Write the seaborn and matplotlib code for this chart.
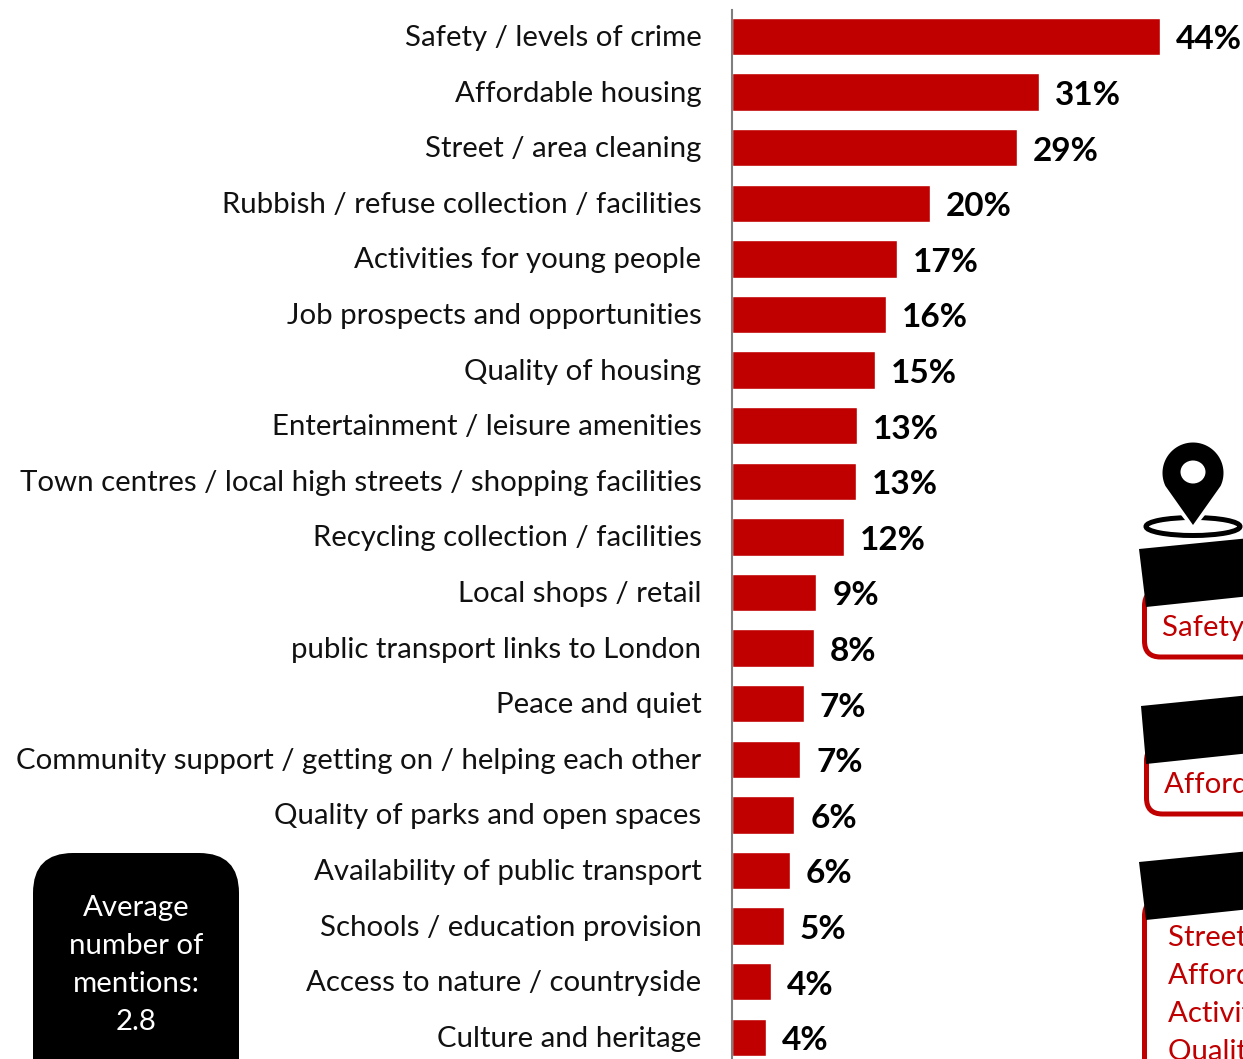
import matplotlib.pyplot as plt
import numpy as np
import pandas as pd
import seaborn as sns
from matplotlib.patches import Ellipse, FancyBboxPatch, Polygon
from matplotlib.transforms import ScaledTranslation

# --- Data ---
categories = [
    "Safety / levels of crime",
    "Affordable housing",
    "Street / area cleaning",
    "Rubbish / refuse collection / facilities",
    "Activities for young people",
    "Job prospects and opportunities",
    "Quality of housing",
    "Entertainment / leisure amenities",
    "Town centres / local high streets / shopping facilities",
    "Recycling collection / facilities",
    "Local shops / retail",
    "public transport links to London",
    "Peace and quiet",
    "Community support / getting on / helping each other",
    "Quality of parks and open spaces",
    "Availability of public transport",
    "Schools / education provision",
    "Access to nature / countryside",
    "Culture and heritage",
]
values = [44.0, 31.55, 29.3, 20.35, 16.95, 15.85, 14.7, 12.85, 12.75, 11.5,
          8.65, 8.45, 7.4, 7.0, 6.4, 5.95, 5.35, 4.0, 3.5]
value_labels = ["44%", "31%", "29%", "20%", "17%", "16%", "15%", "13%", "13%", "12%",
                "9%", "8%", "7%", "7%", "6%", "6%", "5%", "4%", "4%"]

mentions_text = "Average\nnumber of\nmentions:\n2.8"
box_one_text = "Safety / levels of crime"
box_two_text = "Affordable housing"
box_three_lines = ["Street / area cleaning", "Affordable housing",
                   "Activities for young people", "Quality of housing"]

RED = "#C00000"
W, H = 1243, 1059
TEXT_SIZE = 21.2

sns.set_theme(style="white")
plt.rcParams['font.family'] = ['Lato', 'DejaVu Sans']

df = pd.DataFrame({'Category': categories, 'Value': values})

fig = plt.figure(figsize=(W / 100, H / 100), dpi=100)
ax = fig.add_axes([732 / W, 0, (W - 732) / W, (H - 10) / H])
sns.barplot(data=df, y='Category', x='Value', color=RED, width=0.675, saturation=1, ax=ax)

ax.set_xlim(0, (W - 732) / 9.73)
ax.set_ylim((H - 36.5) / 55.6, -26.5 / 55.6)
ax.set_xlabel('')
ax.set_ylabel('')
ax.xaxis.set_visible(False)
sns.despine(ax=ax, top=True, right=True, bottom=True)
ax.spines['left'].set_color('#7f7f7f')
ax.spines['left'].set_linewidth(1.5)
ax.patch.set_alpha(0)
ax.tick_params(axis='y', length=0, pad=22, labelsize=TEXT_SIZE, labelcolor='#111111')
# nudge the category names up a touch
nudge = ScaledTranslation(0, 1 / 100, fig.dpi_scale_trans)
for lab in ax.get_yticklabels():
    lab.set_transform(lab.get_transform() + nudge)
bar_texts = ax.bar_label(ax.containers[0], labels=value_labels, padding=11, fontsize=24,
                         fontweight='bold', color='black', clip_on=False)
for t in bar_texts:
    t.xyann = (11.5, -2.5)

# --- Overlay in pixel coordinates for the callouts ---
ov = fig.add_axes([0, 0, 1, 1])
ov.set_xlim(0, W)
ov.set_ylim(H, 0)
ov.axis('off')
ov.patch.set_alpha(0)

# average box, runs off the bottom edge
ov.add_patch(FancyBboxPatch((33 + 40, 853 + 40), 206 - 80, 260, boxstyle="round,pad=40,rounding_size=40",
                            fc='black', ec='none'))
ov.text(136, 965, mentions_text, color='white', ha='center', va='center',
        fontsize=TEXT_SIZE, linespacing=1.56)

# red outlined boxes, cut by the picture edge
for left, top, bottom in [(1144.5, 590, 657), (1146.5, 745, 814), (1144.5, 900, 1150)]:
    ov.add_patch(FancyBboxPatch((left + 16, top + 16), 300, bottom - top - 32,
                                boxstyle="round,pad=16,rounding_size=16",
                                fc='white', ec=RED, lw=3.6))

# black ribbons on top of the boxes
ov.add_patch(Polygon([(1139, 549), (1146, 607), (1260, 595), (1260, 537)], fc='black', ec='none'))
ov.add_patch(Polygon([(1141, 706), (1146, 764), (1260, 752), (1260, 694)], fc='black', ec='none'))
ov.add_patch(Polygon([(1139, 862), (1146, 920), (1260, 908), (1260, 850)], fc='black', ec='none'))

ov.text(1162, 628, box_one_text, color=RED, va='center', fontsize=TEXT_SIZE, clip_on=True)
ov.text(1164, 785, box_two_text, color=RED, va='center', fontsize=TEXT_SIZE, clip_on=True)
for y, line in zip([938, 976, 1014, 1052], box_three_lines):
    ov.text(1168, y, line, color=RED, va='center', fontsize=TEXT_SIZE, clip_on=True)

# map pin icon
ov.add_patch(Ellipse((1193, 526.5), 94, 18, fc='none', ec='black', lw=3.6))
ov.add_patch(Polygon([(1193, 530), (1177, 510), (1209, 510)], fc='white', ec='none'))
ang = np.radians(np.linspace(-205, 25, 60))
head = np.column_stack([1193 + 30.5 * np.cos(ang), 473 + 30.5 * np.sin(ang)])
ov.add_patch(Polygon(np.vstack([head, [(1193, 525)]]), fc='black', ec='none'))
ov.add_patch(Ellipse((1193, 472), 25, 23, fc='white', ec='none'))

fig.savefig('out.png', dpi=100)
